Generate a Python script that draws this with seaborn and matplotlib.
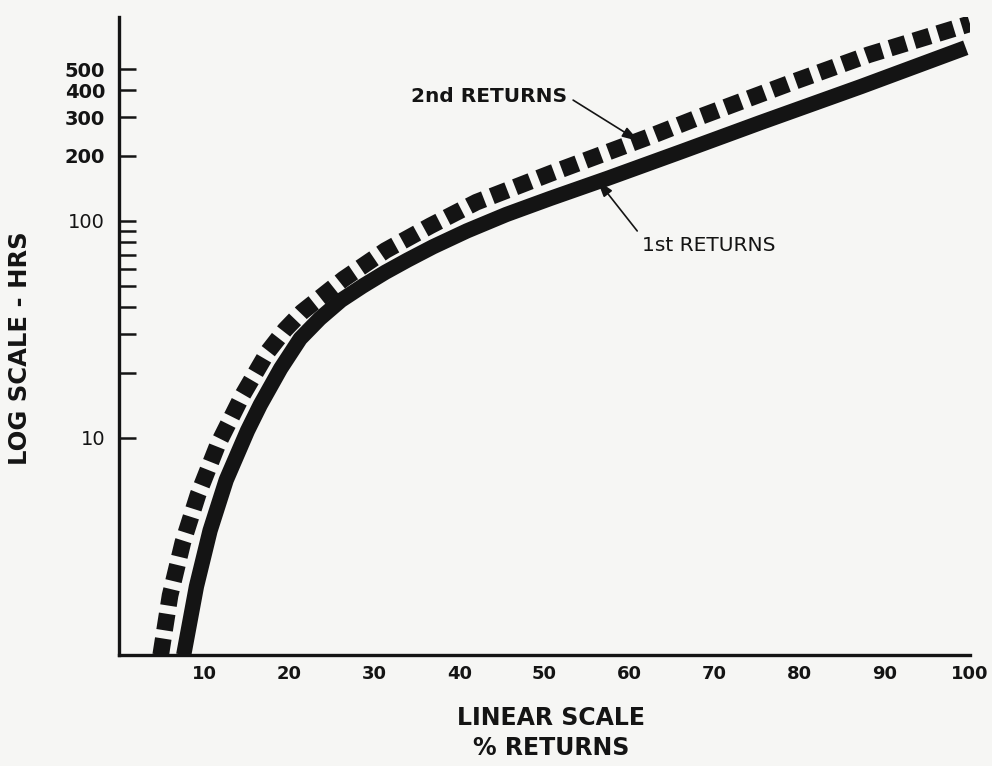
import matplotlib
matplotlib.use("Agg")
import matplotlib.pyplot as plt
import seaborn as sns
from matplotlib.ticker import FixedLocator, NullFormatter

# Cumulative hours versus percentage of returns
first_pct = [7.6, 9.1, 10.7, 12.6, 15.1, 16.6, 19.0, 21.3, 23.6, 26.1, 28.6,
             31.3, 33.9, 36.9, 40.9, 45.5, 50.7, 57.4, 66.0, 75.4, 87.2, 99.5]
first_hrs = [1.0, 2.07, 3.74, 6.4, 10.8, 14.2, 20.9, 28.7, 35.5, 43.1, 50.0,
             58.0, 66.0, 76.0, 90.0, 107.0, 127.0, 157.0, 208.0, 284.0, 416.0,
             628.0]

second_pct = [4.9, 6.0, 7.5, 9.3, 11.6, 14.5, 17.5, 19.5, 21.5, 26.4, 31.3,
              36.6, 42.0, 50.8, 62.4, 68.1, 79.3, 88.1, 100.0]
second_hrs = [1.0, 1.88, 3.3, 5.5, 9.3, 15.7, 25.0, 31.5, 38.0, 54.0, 73.0,
              95.0, 122.0, 166.0, 245.0, 300.0, 438.0, 583.0, 810.0]

x_ticks = [10, 20, 30, 40, 50, 60, 70, 80, 90, 100]
y_major = [10, 100, 200, 300, 400, 500]
y_major_labels = ["10", "100", "200", "300", "400", "500"]
y_minor = [20, 30, 40, 50, 60, 70, 80, 90]

BG = "#f6f6f4"
INK = "#141414"

sns.set_theme(style="white")
plt.rcParams["font.family"] = ["DejaVu Sans"]

fig = plt.figure(figsize=(9.92, 7.66), dpi=100, facecolor=BG)
W, H = 992, 766
left, right, bottom, top = 119, 970, 655, 17
ax = fig.add_axes([left / W, 1 - bottom / H, (right - left) / W, (bottom - top) / H])
ax.set_facecolor(BG)

sns.lineplot(x=first_pct, y=first_hrs, ax=ax, color=INK, linewidth=11,
             sort=False, estimator=None)
sns.lineplot(x=second_pct, y=second_hrs, ax=ax, color=INK, linewidth=12,
             sort=False, estimator=None)
solid_line, square_line = ax.lines[0], ax.lines[1]
solid_line.set_solid_capstyle("butt")
solid_line.set_solid_joinstyle("round")
square_line.set_linestyle((0, (1.0, 0.5)))
square_line.set_dash_capstyle("butt")
square_line.set_dash_joinstyle("round")

ax.set_yscale("log")
ax.set_xlim(0, 100)
ax.set_ylim(1, 870)

ax.xaxis.set_major_locator(FixedLocator(x_ticks))
ax.set_xticklabels([str(v) for v in x_ticks])
ax.yaxis.set_major_locator(FixedLocator(y_major))
ax.set_yticklabels(y_major_labels)
ax.yaxis.set_minor_locator(FixedLocator(y_minor))
ax.yaxis.set_minor_formatter(NullFormatter())

ax.tick_params(axis="x", which="both", length=0, pad=7, labelsize=13,
               colors=INK)
ax.tick_params(axis="y", which="both", direction="in", length=12, width=1.8,
               pad=10, labelsize=14, colors=INK, left=True)
for lab in ax.get_xticklabels():
    lab.set_fontweight("bold")
for lab in ax.get_yticklabels():
    lab.set_fontweight("bold" if lab.get_text() not in ("10", "100") else "normal")

for side in ("top", "right"):
    ax.spines[side].set_visible(False)
for side in ("left", "bottom"):
    ax.spines[side].set_color(INK)
    ax.spines[side].set_linewidth(2.4)

ax.set_xlabel("LINEAR SCALE\n% RETURNS", fontsize=17, fontweight="bold",
              color=INK, linespacing=1.3)
ax.xaxis.set_label_coords(0.508, -0.08)
ax.set_ylabel("LOG SCALE - HRS", fontsize=17.5, fontweight="bold", color=INK)
ax.yaxis.set_label_coords(-0.102, 0.481)

arrow = dict(arrowstyle="-|>,head_length=0.7,head_width=0.22", color=INK,
             lw=1.2, shrinkA=2, shrinkB=0)
ax.annotate("2nd RETURNS", xy=(61.1, 233), xytext=(52.7, 374),
            ha="right", va="center", fontsize=14.5, fontweight="bold",
            color=INK, arrowprops=dict(arrow, relpos=(1.0, 0.5)))
ax.annotate("1st RETURNS", xy=(56.2, 154), xytext=(61.4, 76.7),
            ha="left", va="center", fontsize=14.5, fontweight="normal",
            color=INK, arrowprops=dict(arrow, relpos=(0.0, 1.0)))

fig.savefig("out.png", dpi=100, facecolor=BG)
